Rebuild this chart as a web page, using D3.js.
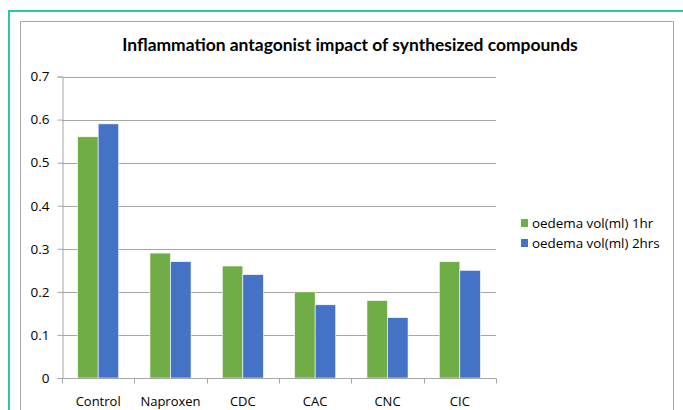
<!DOCTYPE html>
<html>
<head>
<meta charset="utf-8">
<script src="https://cdn.jsdelivr.net/npm/d3@7"></script>
<style>
  body { margin: 0; background: #fff; }
  svg { display: block; font-family: "Open Sans", sans-serif; }
</style>
</head>
<body>
<div id="chart"></div>
<script>
const categories = ['Control', 'Naproxen', 'CDC', 'CAC', 'CNC', 'CIC'];
const seriesNames = ['oedema vol(ml) 1hr', 'oedema vol(ml) 2hrs'];
const values1hr = [0.56, 0.29, 0.26, 0.20, 0.18, 0.27];
const values2hrs = [0.59, 0.27, 0.24, 0.17, 0.14, 0.25];
const yTicks = [0, 0.1, 0.2, 0.3, 0.4, 0.5, 0.6, 0.7];
const colors = ['#70AD47', '#4472C4'];

const W = 683, H = 410;
const svg = d3.select('#chart').append('svg')
  .attr('width', W).attr('height', H);

// fit a text element to a target width by adjusting its font size
function fitWidth(sel, target) {
  const node = sel.node();
  const fs = parseFloat(sel.style('font-size'));
  const w = node.getComputedTextLength();
  sel.style('font-size', `${(fs * target / w).toFixed(2)}px`);
}

// outer teal frame and chart border
svg.append('path')
  .attr('d', `M9,${H} V11 H${W}`)
  .attr('fill', 'none').attr('stroke', '#2ec4a6').attr('stroke-width', 2);
svg.append('path')
  .attr('d', `M20.5,${H} V21.5 H673.5 V${H}`)
  .attr('fill', 'none').attr('stroke', '#a6a6a6').attr('stroke-width', 1);

const title = svg.append('text')
  .attr('x', 350).attr('y', 51)
  .attr('text-anchor', 'middle')
  .style('font-size', '15px').style('font-weight', 'bold')
  .style('font-family', 'Lato, "Open Sans", sans-serif')
  .attr('fill', '#000')
  .text('Inflammation antagonist impact of synthesized compounds');
fitWidth(title, 456);

const plot = { left: 62, right: 496, top: 76.5, bottom: 378 };

const x = d3.scaleBand().domain(categories)
  .range([plot.left, plot.right]).paddingInner(0).paddingOuter(0);
const xSub = d3.scaleBand().domain(seriesNames)
  .range([0, x.bandwidth()]).paddingInner(0).paddingOuter(0.76);
const y = d3.scaleLinear().domain([0, 0.7]).range([plot.bottom, plot.top]);

// gridlines
svg.append('g')
  .selectAll('line').data(yTicks.slice(1)).join('line')
  .attr('x1', plot.left).attr('x2', plot.right)
  .attr('y1', d => Math.round(y(d)) + 0.5).attr('y2', d => Math.round(y(d)) + 0.5)
  .attr('stroke', '#a6a6a6').attr('stroke-width', 1);

// bars
const data = categories.map((c, i) => ({ cat: c, vals: [values1hr[i], values2hrs[i]] }));
svg.append('g').selectAll('g').data(data).join('g')
  .attr('transform', d => `translate(${x(d.cat)},0)`)
  .selectAll('rect').data(d => d.vals.map((v, k) => ({ name: seriesNames[k], v, k })))
  .join('rect')
  .attr('x', d => xSub(d.name))
  .attr('width', xSub.bandwidth())
  .attr('y', d => y(d.v))
  .attr('height', d => y(0) - y(d.v))
  .attr('fill', d => colors[d.k])
  .attr('stroke', '#ffffff').attr('stroke-width', 0.6);

// y axis
const yAxis = svg.append('g')
  .attr('transform', `translate(${plot.left + 0.5},0)`)
  .call(d3.axisLeft(y).tickValues(yTicks).tickSize(5).tickPadding(8)
    .tickFormat(d => d === 0 ? '0' : d3.format('.1f')(d)));
yAxis.select('.domain').attr('stroke', '#a6a6a6');
yAxis.selectAll('.tick line').attr('stroke', '#a6a6a6');
yAxis.selectAll('.tick text').attr('fill', '#000')
  .style('font-size', '13.5px').style('font-family', '"Open Sans", sans-serif');

// x axis with boundary ticks
const xg = svg.append('g').attr('transform', `translate(0,${plot.bottom + 0.5})`);
xg.append('line').attr('x1', plot.left).attr('x2', plot.right)
  .attr('stroke', '#a6a6a6');
const bounds = categories.map(c => x(c)).concat([plot.right]);
xg.selectAll('line.b').data(bounds).join('line').attr('class', 'b')
  .attr('x1', d => Math.round(d) + 0.5).attr('x2', d => Math.round(d) + 0.5)
  .attr('y1', 0).attr('y2', 5).attr('stroke', '#a6a6a6');
xg.selectAll('text').data(categories).join('text')
  .attr('x', d => x(d) + x.bandwidth() / 2)
  .attr('y', 27.5)
  .attr('text-anchor', 'middle')
  .style('font-size', '13px')
  .attr('fill', '#000')
  .text(d => d);

// legend
const legend = svg.append('g').attr('transform', 'translate(521,0)');
legend.selectAll('g').data(seriesNames).join('g')
  .attr('transform', (d, i) => `translate(0,${219 + i * 20})`)
  .each(function(d, i) {
    const g = d3.select(this);
    g.append('rect').attr('width', 7).attr('height', 8).attr('fill', colors[i]);
    g.append('text').attr('x', 11).attr('y', 8.5)
      .style('font-size', '13.4px').attr('fill', '#000').text(d);
  });
</script>
</body>
</html>
